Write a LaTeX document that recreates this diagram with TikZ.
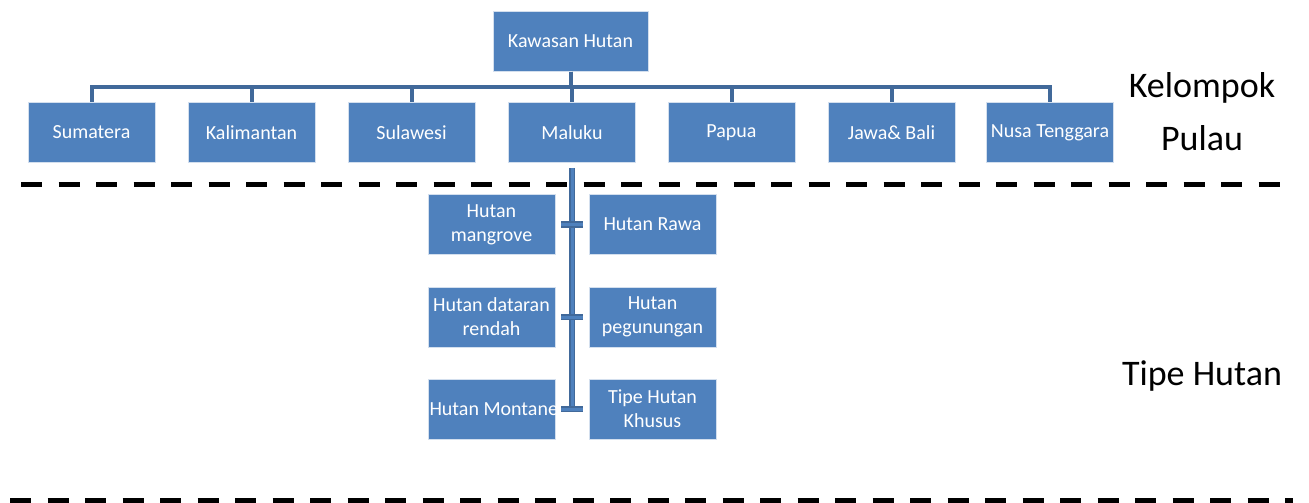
\documentclass[tikz,border=0pt]{standalone}
\usepackage{fontspec}
\setmainfont{Carlito}
\definecolor{boxblue}{HTML}{4F81BD}
\definecolor{linkblue}{HTML}{41699A}
\begin{document}
\begin{tikzpicture}[x=1pt,y=-1pt,line join=miter,
  unit/.style={draw=white!75!boxblue,line width=.8pt,fill=boxblue,text=white,
    minimum width=127pt,minimum height=60pt,inner xsep=1.5pt,inner ysep=1pt,
    text width=124pt,align=flush center,font=\fontsize{20}{24}\selectfont},
  link/.style={draw=linkblue,line width=4pt},
  trunk/.style={draw=linkblue,double=boxblue,double distance=3pt,line width=1.8pt},
  sep/.style={line width=5pt,dash pattern=on 21.3pt off 16.2pt},
  side/.style={font=\fontsize{36}{53}\selectfont,align=center}]
  \useasboundingbox (0,0) rectangle (1309,503);
  % kelompok pulau
  \node[unit,minimum width=155pt,text width=152pt] (kh) at (570.5,41.5) {Kawasan Hutan};
  \foreach \nm/\x/\txt in {sum/91.5/Sumatera,kal/251.5/Kalimantan,
      sul/411.5/Sulawesi,mal/572/Maluku,pap/731.5/Papua,
      jab/891.5/Jawa\& Bali,nus/1050/Nusa Tenggara}{
    \node[unit] (\nm) at (\x,132.5) {\txt};
    \draw[link] (kh.south) -- ++(0,15) -| (\nm.north);
  }
  % tipe hutan
  \node[unit] (man) at (491.5,224.5) {Hutan\\mangrove};
  \node[unit] (raw) at (652.5,224.5) {Hutan Rawa};
  \node[unit] (dat) at (491.5,317) {Hutan dataran\\rendah};
  \node[unit] (peg) at (652.5,317) {Hutan\\pegunungan};
  \node[unit] (mon) at (491.5,409) {\mbox{Hutan Montane}};
  \node[unit] (khu) at (652.5,409) {Tipe Hutan\\Khusus};
  \coordinate (tend) at ([yshift=-1pt]mal.south |- mon.east);
  \draw[trunk] ([yshift=-5pt]mal.south) -- (tend);
  \foreach \l in {man,dat,mon}
    \draw[trunk] (mal.south |- \l.east) ++(-11,0) -- ++(22,0);
  % batas
  \draw[sep] (21,184) -- (1293,184);
  \draw[sep] (10,500) -- (1293,500);
  \node[side] (kp) at (1202,111.5) {Kelompok\\Pulau};
  \node[side] (th) at (1202,376) {Tipe Hutan};
\end{tikzpicture}
\end{document}
